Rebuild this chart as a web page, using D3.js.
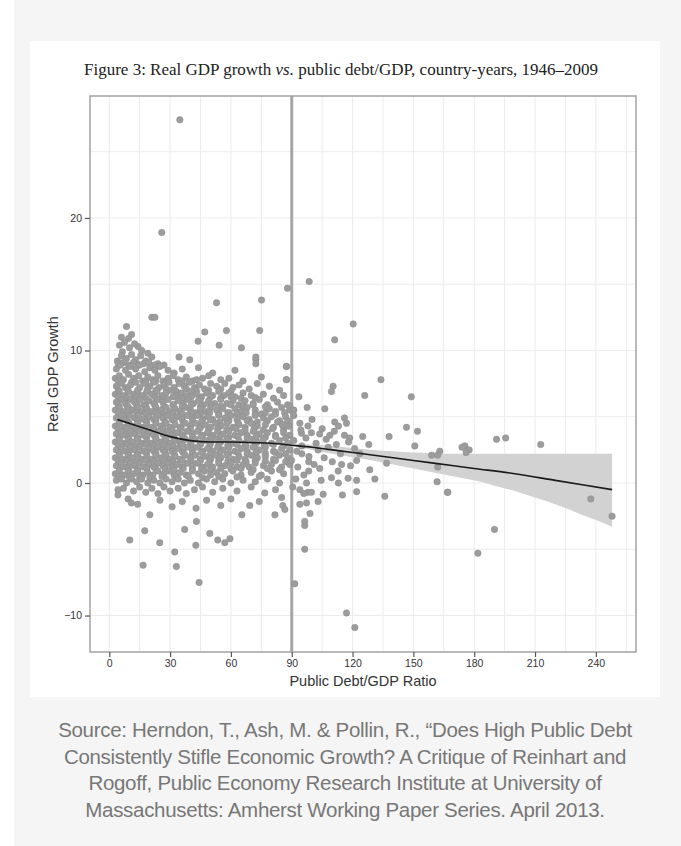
<!DOCTYPE html>
<html>
<head>
<meta charset="utf-8">
<script src="https://cdn.jsdelivr.net/npm/d3@7/dist/d3.min.js"></script>
<style>
  body { margin: 0; background: #fff; }
  svg { display: block; }
</style>
</head>
<body>
<script>
// canvas size and the plot frame (Stata style box)
var width = 681;
var height = 846;
var frame = {left: 90, right: 636, top: 96, bottom: 652};

// tick labels and grid positions
var debtTicks = [0, 30, 60, 90, 120, 150, 180, 210, 240];
var growthTicks = [-10, 0, 10, 20];
var debtGrid = [0, 15, 30, 45, 60, 75, 90, 105, 120, 135, 150, 165, 180, 195, 210, 225, 240, 255];
var growthGrid = [-10, -5, 0, 5, 10, 15, 20, 25];

// local polynomial fit and its confidence band
var fitDebt   = [4, 10, 20, 30, 40, 50, 60, 70, 80, 90, 100, 110, 120, 140, 160, 180, 200, 220, 248];
var fitGrowth = [4.8, 4.5, 4.0, 3.5, 3.2, 3.1, 3.1, 3.05, 3.0, 2.85, 2.7, 2.5, 2.3, 1.9, 1.5, 1.1, 0.7, 0.2, -0.5];
var bandDebt  = [90, 100, 110, 120, 130, 140, 150, 160, 170, 180, 190, 200, 210, 220, 230, 240, 248];
var bandUpper = [2.95, 2.9, 2.8, 2.65, 2.5, 2.4, 2.3, 2.25, 2.2, 2.2, 2.2, 2.2, 2.2, 2.2, 2.2, 2.2, 2.2];
var bandLower = [2.75, 2.5, 2.2, 1.95, 1.7, 1.4, 1.1, 0.8, 0.5, 0.2, -0.2, -0.6, -1.1, -1.6, -2.2, -2.8, -3.3];

// scatter: country-years, [debt/GDP, real GDP growth]
var upperCloud = [
  [8.5,11.8],[11,11.2],[6,11.0],[9.5,10.9],[21,12.5],[22.5,12.5],[14.2,10.3],
  [5,10.4],[7.5,10.6],[10,10.2],[12.5,10.5],[6.5,9.9],[16,10.0],[19,9.8],
  [4,9.2],[6,9.6],[8.5,9.4],[11,9.7],[13,9.3],[15.5,9.6],[18,9.2],[21,9.5],[24,9.0],[34.4,9.5],[39.7,9.3],[27,8.9],
  [4.5,9.0],[7,9.1],[9.5,8.9],[12,9.1],[14.5,8.9],[17,9.0],[19.5,9.1],[22.5,8.9],
  [3.5,8.6],[5.5,8.9],[8,8.5],[10.5,8.8],[13,8.6],[15,8.9],[17.5,8.4],[20,8.7],[22.5,8.5],[25,8.8],[29,8.5],[32,8.3],[36,8.6],[44,8.7],[51,8.3],[62,8.5],[72.3,9.3],[72.3,9.5],[87.4,8.8],
  [3,7.9],[5,8.1],[7,7.8],[9.5,8.2],[12,7.9],[14.5,8.1],[16.5,7.7],[19,8.0],[21.5,7.8],[24,8.1],[26.5,7.7],[29,7.9],[31.5,8.1],[34,7.8],[38,8.0],[41,7.7],[46,7.9],[49,8.1],[55,7.8],[59,7.9],[66,7.7],[75,8.0],[87.4,7.8],
  [4.5,7.7],[11,7.6],[18,7.7],[23,7.7],[28,7.6],[36,7.7],[43,7.8],
  [3.5,7.3],[6,7.5],[8,7.2],[10.5,7.4],[13,7.6],[15,7.2],[17.5,7.5],[20,7.3],[22,7.6],[24.5,7.2],[27,7.4],[29.5,7.6],[32,7.2],[34.5,7.5],[37,7.3],[39.5,7.6],[42,7.2],[44.5,7.4],[47,7.1],[50,7.5],[53,7.3],[57,7.5],[61,7.2],[64,7.4],[69,7.1],[73,7.5],[79,7.3],[84,7.0],
  [4.5,7.0],[9,7.1],[14,6.9],[19,7.1],[23,7.0],[28,7.1],[33,6.9],[38,7.1],[43,6.95],[49,7.0],[55,7.1],[60,6.9],
  [3,6.7],[5,6.9],[7.5,6.6],[9.5,6.9],[12,6.7],[14,7.0],[16.5,6.6],[18.5,6.9],[21,6.7],[23.5,6.9],[26,6.6],[28,6.8],[30.5,7.0],[33,6.6],[35.5,6.8],[38,6.6],[40.5,6.9],[43,6.7],[45.5,6.5],[48,6.8],[51,6.6],[54,6.9],[56.5,6.6],[59,6.8],[62,6.5],[66,6.8],[70,6.6],[76,6.7],[81,6.4],[86,6.6],
  [4.5,6.5],[9,6.4],[13.5,6.5],[18,6.4],[22.5,6.5],[27,6.4],[31.5,6.5],[36,6.4],[40.5,6.5],[45,6.35],[50,6.5],[55,6.4],[60,6.5],[65,6.4],[72,6.45],
  [3.5,6.1],[6,6.3],[8,6.0],[10.5,6.3],[12.5,6.1],[15,6.3],[17,5.9],[19.5,6.2],[22,6.0],[24,6.3],[26.5,6.1],[29,6.3],[31.5,5.9],[34,6.2],[36.5,6.0],[39,6.3],[41.5,6.0],[44,6.2],[46.5,5.9],[49,6.2],[52,6.0],[55,6.3],[58,6.0],[61,6.2],[64,5.9],[67,6.2],[71,6.0],[74,6.3],[78,5.9],[83,6.1],[88,5.9],
  [4.5,5.9],[9,5.8],[13.5,5.9],[18,5.8],[22.5,5.9],[27,5.8],[31.5,5.9],[36,5.8],[40.5,5.9],[45,5.8],[50,5.9],[55,5.8],[60,5.9],[66,5.8],[71,5.9],[77,5.75]
];

var coreCloud = [
  [3,5.5],[5,5.7],[7,5.4],[9.5,5.7],[11.5,5.5],[14,5.7],[16,5.4],[18.5,5.6],[21,5.4],[23,5.7],[25.5,5.5],[28,5.7],[30,5.4],[32.5,5.6],[35,5.4],[37.5,5.7],[40,5.5],[42.5,5.3],[45,5.6],[47.5,5.4],[50,5.7],[53,5.5],[56,5.6],[59,5.3],[62,5.6],[65,5.4],[68,5.7],[72,5.5],[75,5.2],[79,5.6],[82,5.4],[85,5.7],[89,5.5],
  [4.5,5.3],[9,5.2],[13.5,5.3],[18,5.2],[22.5,5.3],[27,5.2],[31.5,5.3],[36,5.2],[40.5,5.3],[45,5.2],[49.5,5.3],[54,5.2],[58.5,5.3],[63,5.2],[67.5,5.3],[72,5.2],[77,5.3],[82,5.2],[86.5,5.3],
  [3.5,4.9],[6,5.1],[8,4.8],[10,5.1],[12.5,4.9],[14.5,5.1],[17,4.8],[19.5,5.0],[22,4.8],[24,5.1],[26.5,4.9],[29,5.1],[31,4.8],[33.5,5.0],[36,4.8],[38.5,5.1],[41,4.9],[43.5,5.1],[46,4.8],[48.5,5.0],[51,4.8],[54,5.1],[57,4.9],[60,5.1],[63,4.8],[66,5.0],[69,4.8],[72,5.1],[76,4.9],[80,5.0],[84,4.7],[87,5.0],
  [5,4.7],[9.5,4.6],[14,4.7],[18.5,4.6],[23,4.75],[27.5,4.6],[32,4.7],[36.5,4.55],[41,4.7],[45.5,4.6],[50,4.75],[54.5,4.6],[59,4.7],[63.5,4.55],[68,4.7],[73,4.6],[78,4.7],[83,4.6],[88,4.7],
  [3,4.3],[5,4.5],[7.5,4.2],[9.5,4.5],[11.5,4.3],[14,4.5],[16,4.2],[18.5,4.4],[21,4.2],[23,4.5],[25.5,4.3],[28,4.5],[30,4.2],[32.5,4.4],[35,4.2],[37.5,4.5],[40,4.3],[42.5,4.5],[45,4.2],[47.5,4.4],[50,4.2],[52.5,4.5],[55,4.3],[58,4.5],[61,4.2],[64,4.4],[67,4.2],[70,4.5],[73,4.3],[77,4.4],[81,4.2],[85.4,4.4],[88.5,4.3],
  [4.5,4.05],[8.5,4.1],[13,4.0],[17.5,4.1],[22,4.05],[26.5,4.1],[31,4.0],[35.5,4.1],[40,4.05],[44.5,4.1],[49,4.0],[53.5,4.1],[58,4.05],[62.5,4.1],[67,4.0],[71.5,4.1],[76,4.0],[80.5,4.1],[86,4.0],
  [3.5,3.7],[6,3.9],[8,3.6],[10.5,3.9],[12.5,3.7],[15,3.9],[17,3.6],[19.5,3.8],[22,3.6],[24,3.9],[26.5,3.7],[29,3.9],[31,3.6],[33.5,3.8],[36,3.6],[38.5,3.9],[41,3.7],[43.5,3.9],[46,3.6],[48.5,3.8],[51,3.6],[53.5,3.9],[56,3.7],[59,3.9],[62,3.6],[65,3.8],[68,3.6],[71,3.9],[74,3.7],[78,3.8],[82,3.6],[86,3.8],[89,3.6],
  [5,3.45],[9.5,3.5],[14,3.4],[18.5,3.5],[23,3.45],[27.5,3.5],[32,3.4],[36.5,3.5],[41,3.45],[45.5,3.5],[50,3.4],[54.5,3.5],[59,3.45],[63.5,3.5],[68,3.4],[72.5,3.5],[77,3.45],[82,3.5],[87,3.4],
  [3,3.1],[5,3.3],[7.5,3.0],[9.5,3.3],[11.5,3.1],[14,3.3],[16,3.0],[18.5,3.2],[21,3.0],[23,3.3],[25.5,3.1],[28,3.3],[30,3.0],[32.5,3.2],[35,3.0],[37.5,3.3],[40,3.1],[42.5,3.3],[45,3.0],[47.5,3.2],[50,3.0],[52.5,3.3],[55,3.1],[58,3.3],[61,3.0],[64,3.2],[67,3.0],[70,3.3],[73,3.1],[76,3.3],[80,3.0],[84,3.2],[88,3.0],
  [4.5,2.85],[9,2.9],[13.5,2.8],[18,2.9],[22.5,2.85],[27,2.9],[31.5,2.8],[36,2.9],[40.5,2.85],[45,2.9],[49.5,2.8],[54,2.9],[58.5,2.85],[63,2.9],[67.5,2.8],[72,2.9],[76.5,2.85],[81,2.9],[86,2.8],
  [3.5,2.5],[6,2.7],[8,2.4],[10.5,2.7],[12.5,2.5],[15,2.7],[17,2.4],[19.5,2.6],[22,2.4],[24,2.7],[26.5,2.5],[29,2.7],[31,2.4],[33.5,2.6],[36,2.4],[38.5,2.7],[41,2.5],[43.5,2.7],[46,2.4],[48.5,2.6],[51,2.4],[53.5,2.7],[56,2.5],[59,2.7],[62,2.4],[65,2.6],[68,2.4],[71,2.7],[74,2.5],[77,2.7],[81,2.4],[85,2.6],[89,2.5],
  [5,2.25],[9.5,2.3],[14,2.2],[18.5,2.3],[23,2.25],[27.5,2.3],[32,2.2],[36.5,2.3],[41,2.25],[45.5,2.3],[50,2.2],[54.5,2.3],[59,2.25],[63.5,2.3],[68,2.2],[72.5,2.3],[77,2.25],[82,2.3],[87,2.2],
  [3,1.9],[5,2.1],[7.5,1.8],[9.5,2.1],[11.5,1.9],[14,2.1],[16,1.8],[18.5,2.0],[21,1.8],[23,2.1],[25.5,1.9],[28,2.1],[30,1.8],[32.5,2.0],[35,1.8],[37.5,2.1],[40,1.9],[42.5,2.1],[45,1.8],[47.5,2.0],[50,1.8],[52.5,2.1],[55,1.9],[58,2.1],[61,1.8],[64,2.0],[67,1.8],[70,2.1],[73,1.9],[77,2.0],[81,1.8],[84,2.1],[88,1.9],
  [4.5,1.65],[9,1.7],[13.5,1.6],[18,1.7],[22.5,1.65],[27,1.7],[31.5,1.6],[36,1.7],[40.5,1.65],[45,1.7],[49.5,1.6],[54,1.7],[58.5,1.65],[63,1.7],[67.5,1.6],[72,1.7],[77,1.65],[82,1.7],[87,1.6],
  [3.5,1.3],[6,1.5],[8,1.2],[10.5,1.5],[12.5,1.3],[15,1.5],[17,1.2],[19.5,1.4],[22,1.2],[24,1.5],[26.5,1.3],[29,1.5],[31,1.2],[33.5,1.4],[36,1.2],[38.5,1.5],[41,1.3],[43.5,1.5],[46,1.2],[48.5,1.4],[51,1.2],[54,1.5],[57,1.3],[60,1.5],[63,1.2],[66,1.4],[69,1.2],[72,1.5],[76,1.3],[80,1.4],[85,1.2],[89,1.4],
  [5,1.05],[9.5,1.1],[14,1.0],[18.5,1.1],[23,1.05],[27.5,1.1],[32,1.0],[36.5,1.1],[41,1.05],[45.5,1.1],[50,1.0],[55,1.1],[60,1.05],[65,1.1],[71,1.0],[78,1.1],[84,1.0],
  [3,0.7],[5,0.9],[7.5,0.6],[9.5,0.9],[12,0.7],[14,0.9],[16.5,0.6],[19,0.8],[21.5,0.6],[24,0.9],[27,0.7],[29.5,0.9],[32,0.6],[35,0.8],[38,0.6],[41,0.9],[44,0.7],[47,0.9],[50,0.6],[53,0.8],[57,0.7],[61,0.9],[65,0.6],[70,0.8],[75,0.6],[80,0.9],[86,0.7],
  [5,0.5],[10,0.45],[15,0.5],[20,0.4],[26,0.5],[33,0.45],[39,0.5],[46,0.4],[54,0.5],[63,0.45],[74,0.5],
  [3.5,0.2],[6,0.3],[8.5,0.0],[11,0.3],[13.5,0.1],[16,0.3],[19,0.0],[22,0.2],[25,0.0],[28,0.3],[31,0.1],[34,0.3],[37,0.0],[40,0.2],[44,0.0],[48,0.3],[52,0.1],[56,0.3],[60,0.0],[66,0.2],[72,0.1],[78,0.3],[84,0.0],
  [4.3,-0.5],[4.3,-0.9],[7,-0.4],[9.3,-1.2],[10.9,-1.5],[12,-0.6],[15,-0.3],[18,-0.7],[21,-0.4],[24,-0.8],[27,-0.3],[30,-0.6],[34,-0.4],[38,-0.8],[42,-0.5],[46,-0.3],[51,-0.7],[56,-0.4],[63,-0.6],[70,-0.3],[76.7,-0.75],[82,-0.5],
  [14,-1.6],[20,-2.4],[25,-1.3],[31,-1.8],[36,-1.4],[42.8,-1.9],[48,-1.3],[55,-1.7],[65.4,-2.4],[69.3,-1.7],[81.7,-2.4],[85.6,-1.7],[60,-1.2],[74,-1.4]
];

var sparsePoints = [
  // upper scatter
  [34.8,27.4],[25.9,18.9],[52.9,13.6],[75.1,13.8],[87.9,14.7],[98.6,15.2],[47.1,11.4],[57.8,11.5],[43.8,10.7],[54.2,10.4],[65.2,10.2],
  [74.2,11.5],[72.3,9.0],[87.4,8.8],[87.4,7.8],[120.3,12.0],[111.2,10.8],[134,7.8],[126,6.6],[149,6.5],[110.4,7.3],[109.6,6.9],
  // high debt cluster
  [106.3,5.6],[97.6,5.7],[89,5.8],[91,5.5],[146.6,4.2],[152,3.9],[138,3.5],[150.7,2.8],[117,4.5],[94,4.5],[98,4.3],[85.4,4.4],[88.5,4.3],
  [94.8,3.75],[99.7,3.8],[103.8,3.7],[111.2,4.6],[113,4.3],[108.8,3.6],[116,3.6],[118.6,3.4],[175.4,2.8],[177.5,2.5],[163,2.4],[162,2.1],
  [123.6,2.2],[122,1.7],[136.8,1.5],[128.5,1.0],[131,0.3],[117.8,0.35],[122,0.2],[122,-0.65],[109.6,0.4],[112.9,0.9],[114.6,1.4],[103.8,1.1],
  [98.4,1.6],[98.4,0.9],[97.3,0.0],[98,-0.7],[94,-0.5],[96,-0.8],[99.7,-0.7],[105.5,-0.85],[135.9,-1.0],[161.7,0.1],[166.8,-0.7],[97.3,-1.5],
  [86.6,-2.0],[85,-1.1],[96.4,-3.2],[190,-3.5],[89.9,1.7],[95,2.2],
  [91,3.2],[92.5,2.4],[93,1.2],[94.5,4.0],[95,2.8],[96,0.6],[97,3.4],[98.5,2.0],[100,4.8],[101,1.4],[102,3.0],[103,2.5],[104.5,0.2],[105,4.1],
  [106,1.9],[107,3.3],[108,2.7],[110,1.6],[111,3.9],[112,2.9],[114,2.2],[116,4.9],[118,3.1],[119,1.3],[121,2.6],[91,5.1],[93.5,6.5],[92,0.3],
  [90.5,-0.3],[94,-1.6],[99,-2.3],[103,-1.4],[113,0.0],[115,-0.9],[125,3.5],[128,2.9],
  [174,2.7],[176,2.3],[191,3.3],[195.5,3.4],[212.8,2.9],[181.8,-5.3],[237.5,-1.2],[248,-2.5],[159,2.1],[162,1.2],[167,-0.7],
  // low tail
  [10.1,-4.3],[17.5,-3.6],[16.7,-6.2],[33.1,-6.3],[44.3,-7.5],[32.3,-5.2],[24.9,-4.5],[37.2,-3.5],[43,-2.9],[42.7,-4.7],[49.6,-3.8],
  [53.5,-4.3],[57,-4.5],[59.5,-4.2],[91.5,-7.6],[117,-9.8],[121.1,-10.9],[96.4,-2.9],[96.4,-5.0]
];

var sourceLines = [
  "Source: Herndon, T., Ash, M. & Pollin, R., \u201cDoes High Public Debt",
  "Consistently Stifle Economic Growth? A Critique of Reinhart and",
  "Rogoff, Public Economy Research Institute at University of",
  "Massachusetts: Amherst Working Paper Series. April 2013."
];

var svg = d3.select("body")
    .append("svg")
    .attr("width", width)
    .attr("height", height);

// page background and white card
svg.append("rect")
    .attr("x", 14).attr("y", 0)
    .attr("width", width - 14).attr("height", height)
    .attr("fill", "#f5f5f5");

svg.append("rect")
    .attr("x", 30).attr("y", 41)
    .attr("width", 630).attr("height", 656)
    .attr("fill", "#ffffff");

// scales
var x = d3.scaleLinear()
    .domain([-9.5, 259.8])
    .range([frame.left, frame.right]);

var y = d3.scaleLinear()
    .domain([-12.75, 29.2])
    .range([frame.bottom, frame.top]);

// title
var title = svg.append("text")
    .attr("x", 84)
    .attr("y", 75)
    .style("font-family", "'Liberation Serif', 'DejaVu Serif', serif")
    .style("font-size", "17px")
    .attr("fill", "#222");
title.append("tspan").text("Figure 3:  Real GDP growth ");
title.append("tspan").style("font-style", "italic").text("vs.");
title.append("tspan").text(" public debt/GDP, country-years, 1946\u20132009");

// grid lines
svg.append("g")
    .selectAll("line")
    .data(debtGrid)
    .enter().append("line")
    .attr("x1", function(d) { return x(d); })
    .attr("x2", function(d) { return x(d); })
    .attr("y1", frame.top)
    .attr("y2", frame.bottom)
    .attr("stroke", "#ececec")
    .attr("stroke-width", 1);

svg.append("g")
    .selectAll("line")
    .data(growthGrid)
    .enter().append("line")
    .attr("x1", frame.left)
    .attr("x2", frame.right)
    .attr("y1", function(d) { return y(d); })
    .attr("y2", function(d) { return y(d); })
    .attr("stroke", "#ececec")
    .attr("stroke-width", 1);

// clip to plot region
svg.append("clipPath")
    .attr("id", "clip")
    .append("rect")
    .attr("x", frame.left)
    .attr("y", frame.top)
    .attr("width", frame.right - frame.left)
    .attr("height", frame.bottom - frame.top);

var plot = svg.append("g").attr("clip-path", "url(#clip)");

// 90% threshold line
plot.append("line")
    .attr("x1", x(90)).attr("x2", x(90))
    .attr("y1", frame.top).attr("y2", frame.bottom)
    .attr("stroke", "#a6a6a6")
    .attr("stroke-width", 3);

// confidence band
var band = d3.area()
    .x(function(d, i) { return x(bandDebt[i]); })
    .y0(function(d, i) { return y(bandLower[i]); })
    .y1(function(d, i) { return y(bandUpper[i]); })
    .curve(d3.curveMonotoneX);

plot.append("path")
    .datum(bandDebt)
    .attr("d", band)
    .attr("fill", "#d2d2d2");

// scatter points
var allPoints = upperCloud.concat(coreCloud, sparsePoints);
plot.append("g")
    .selectAll("circle")
    .data(allPoints)
    .enter().append("circle")
    .attr("cx", function(d) { return x(d[0]); })
    .attr("cy", function(d) { return y(d[1]); })
    .attr("r", 3.25)
    .attr("fill", "#9c9c9c")
    .attr("stroke", "#8c8c8c")
    .attr("stroke-width", 0.5);

// fitted line
var fit = d3.line()
    .x(function(d, i) { return x(fitDebt[i]); })
    .y(function(d, i) { return y(fitGrowth[i]); })
    .curve(d3.curveMonotoneX);

plot.append("path")
    .datum(fitDebt)
    .attr("d", fit)
    .attr("fill", "none")
    .attr("stroke", "#1a1a1a")
    .attr("stroke-width", 1.6);

// frame
svg.append("rect")
    .attr("x", frame.left)
    .attr("y", frame.top)
    .attr("width", frame.right - frame.left)
    .attr("height", frame.bottom - frame.top)
    .attr("fill", "none")
    .attr("stroke", "#a3a3a3")
    .attr("stroke-width", 1.5);

// axes
var xAxis = svg.append("g")
    .attr("transform", "translate(0," + frame.bottom + ")")
    .call(d3.axisBottom(x).tickValues(debtTicks).tickSize(5).tickPadding(3));

var yAxis = svg.append("g")
    .attr("transform", "translate(" + frame.left + ",0)")
    .call(d3.axisLeft(y).tickValues(growthTicks).tickSize(5).tickPadding(3));

[xAxis, yAxis].forEach(function(g) {
  g.select(".domain").remove();
  g.selectAll(".tick line").attr("stroke", "#555").attr("stroke-width", 1.2);
  g.selectAll(".tick text")
    .attr("fill", "#333")
    .style("font-family", "'Liberation Sans', Arial, sans-serif")
    .style("font-size", "10.5px");
});

// axis labels
svg.append("text")
    .attr("x", (frame.left + frame.right) / 2)
    .attr("y", 686)
    .attr("text-anchor", "middle")
    .attr("fill", "#333")
    .style("font-family", "'Liberation Sans', Arial, sans-serif")
    .style("font-size", "14.5px")
    .text("Public Debt/GDP Ratio");

svg.append("text")
    .attr("transform", "translate(58," + ((frame.top + frame.bottom) / 2) + ") rotate(-90)")
    .attr("text-anchor", "middle")
    .attr("fill", "#333")
    .style("font-family", "'Liberation Sans', Arial, sans-serif")
    .style("font-size", "14.5px")
    .text("Real GDP Growth");

// source caption
svg.append("g")
    .selectAll("text")
    .data(sourceLines)
    .enter().append("text")
    .attr("x", 345)
    .attr("y", function(d, i) { return 737 + i * 26.7; })
    .attr("text-anchor", "middle")
    .attr("fill", "#777")
    .style("font-family", "'Liberation Sans', Arial, sans-serif")
    .style("font-size", "20.5px")
    .style("letter-spacing", "-0.3px")
    .text(function(d) { return d; });
</script>
</body>
</html>
